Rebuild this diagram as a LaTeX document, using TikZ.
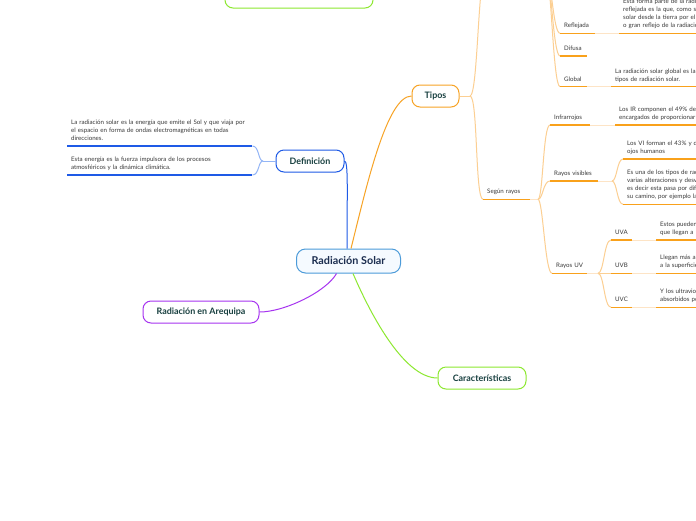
\documentclass[tikz,border=0pt]{standalone}
\usepackage{fontspec}
\setmainfont{Lato}
\usetikzlibrary{positioning}

\definecolor{rootline}{HTML}{4C9BD9}
\definecolor{rootfill}{HTML}{F5FAFF}
\definecolor{roottext}{HTML}{1B2D4F}
\definecolor{topictext}{HTML}{173F3F}
\definecolor{leaftext}{HTML}{3A3A3A}
\definecolor{tiposcol}{HTML}{F7A325}
\definecolor{tiposline}{HTML}{F9A11B}
\definecolor{tiposlight}{HTML}{FCCF92}
\definecolor{tipospale}{HTML}{FDE4C6}
\definecolor{defcol}{HTML}{1E5AE6}
\definecolor{deflight}{HTML}{93B5F6}
\definecolor{arequipacol}{HTML}{A734F0}
\definecolor{caractcol}{HTML}{8DE830}

\begin{document}
\begin{tikzpicture}[x=1pt, y=-1pt,
% first : the styles of the map
    topic/.style={
        rectangle,
        rounded corners=8pt,
        draw,
        line width=1pt,
        fill=white,
        text=topictext,
        font=\bfseries\fontsize{8.9}{10}\selectfont,
        minimum height=22pt,
        inner sep=0pt
    },
    leaf/.style={
        anchor=south west,
        align=left,
        inner xsep=4pt,
        inner ysep=2.9pt,
        text=leaftext,
        font=\fontsize{6.15}{8.1}\selectfont,
        execute at end node=\strut
    },
    link/.style={line width=1pt},
    uline/.style={line width=1.5pt}
]
\fill[white] (0,0) rectangle (696,520);
\useasboundingbox (0,0) rectangle (696,520);

% main topics
\node[topic, rounded corners=9pt, draw=rootline, fill=rootfill, text=roottext,
      font=\bfseries\fontsize{10.8}{12}\selectfont,
      minimum width=104pt, minimum height=24pt] (root) at (348.5,261) {Radiación Solar};
\node[topic, draw=tiposcol, minimum width=47pt] (tipos) at (435.5,96) {Tipos};
\node[topic, draw=defcol, minimum width=68pt] (defin) at (310,161) {Definición};
\node[topic, draw=arequipacol, minimum width=116pt] (areq) at (201,312) {Radiación en Arequipa};
\node[topic, draw=caractcol, minimum width=88pt] (carac) at (482,378) {Características};
\node[topic, draw=caractcol, minimum width=148pt] (topg) at (299,-3) {};

% definicion + text
\node[leaf, text width=177pt] (def1) at (67,146) {La radiación solar es la energía que emite el Sol y que viaja por\\el espacio en forma de ondas electromagnéticas en todas\\direcciones.};
\node[leaf, text width=177pt] (def2) at (67,175) {Esta energía es la fuerza impulsora de los procesos\\atmosféricos y la dinámica climática.};
\coordinate (jdef) at (263,161);

% tipos + text
\coordinate (jtipos) at (470,96);
\coordinate (upper) at (486,-30);
\coordinate (jupper) at (546,-28);
\node[leaf, text width=27pt] (refl) at (560,33.3) {Reflejada};
\node[leaf, text width=19pt] (difu) at (560,56) {Difusa};
\node[leaf, text width=19pt] (glob) at (560,86.7) {Global};
\node[leaf, text width=200pt] (reflt) at (619,33.3) {Esta forma parte de la radiación\\reflejada es la que, como su\\solar desde la tierra por el\\o gran reflejo de la radiación};
\node[leaf, text width=200pt] (globt) at (611,86.7) {La radiación solar global es la\\tipos de radiación solar.};

\node[leaf, text width=39pt] (segun) at (483,199.3) {Según~rayos};
\coordinate (jsegun) at (538,199.3);
\node[leaf, text width=32pt] (infra) at (550,125) {Infrarrojos};
\node[leaf, text width=200pt] (infrat) at (615,125) {Los IR componen el 49\% de\\encargados de proporcionar};
\node[leaf, text width=40pt] (visib) at (550,181) {Rayos~visibles};
\coordinate (jvis) at (612,181);
\node[leaf, text width=200pt] (vist1) at (623,159) {Los VI forman el 43\% y de\\ojos humanos};
\node[leaf, text width=200pt] (vist2) at (623,204.3) {Es una de los tipos de radiación\\varias alteraciones y desviaciones\\es decir esta pasa por diferentes\\su camino, por ejemplo las};
\node[leaf, text width=27pt] (uv) at (552,273.3) {Rayos~UV};
\coordinate (juv) at (598,273.3);
\node[leaf, text width=13pt] (uva) at (611,240) {UVA};
\node[leaf, text width=13pt] (uvb) at (611,273.3) {UVB};
\node[leaf, text width=13pt] (uvc) at (611,307.3) {UVC};
\node[leaf, text width=200pt] (uvat) at (656,240) {Estos pueden\\que llegan a};
\node[leaf, text width=200pt] (uvbt) at (656,273.3) {Llegan más a\\a la superficie};
\node[leaf, text width=200pt] (uvct) at (656,307.3) {Y los ultravioleta\\absorbidos por};

% links
\draw[link, tiposcol] ([xshift=2.5pt]root.north) .. controls +(15,-60) and +(-25,0) .. (tipos.west);
\draw[link, defcol] ([xshift=-1.5pt]root.north) .. controls +(0,-55) and +(4,0) .. (defin.east);
\draw[link, arequipacol] ([xshift=-12pt]root.south) .. controls +(-10,18) and +(25,0) .. (areq.east);
\draw[link, caractcol] ([xshift=4.5pt]root.south) .. controls +(15,35) and +(-35,0) .. (carac.west);

\draw[link, deflight] (defin.west) -- (jdef);
\foreach \n in {def1,def2}
    \draw[link, deflight] (jdef) .. controls +(-5,0) and +(7,0) .. (\n.south east);

\draw[link, tiposlight] (tipos.east) -- (jtipos);
\draw[link, tiposlight] (jtipos) .. controls +(8,0) and +(-8,0) .. (upper);
\draw[link, tiposlight] (jtipos) .. controls +(8,0) and +(-8,0) .. (segun.south west);
\foreach \n in {refl,difu,glob}
    \draw[link, tiposlight] (jupper) .. controls +(5,0) and +(-7,0) .. (\n.south west);
\draw[link, tipospale] (refl.south east) -- (reflt.south west);
\draw[link, tipospale] (glob.south east) -- (globt.south west);
\draw[link, tipospale] (segun.south east) -- (jsegun);
\foreach \n in {infra,visib,uv}
    \draw[link, tiposlight] (jsegun) .. controls +(5,0) and +(-7,0) .. (\n.south west);
\draw[link, tipospale] (infra.south east) -- (infrat.south west);
\draw[link, tipospale] (visib.south east) -- (jvis);
\foreach \n in {vist1,vist2}
    \draw[link, tiposlight] (jvis) .. controls +(5,0) and +(-6,0) .. (\n.south west);
\draw[link, tipospale] (uv.south east) -- (juv);
\foreach \n in {uva,uvb,uvc}
    \draw[link, tiposlight] (juv) .. controls +(6,0) and +(-7,0) .. (\n.south west);
\foreach \n/\t in {uva/uvat,uvb/uvbt,uvc/uvct}
    \draw[link, tipospale] (\n.south east) -- (\t.south west);

% underlines
\foreach \n in {refl,difu,glob,reflt,globt,segun,infra,infrat,visib,vist1,vist2,uv,uva,uvb,uvc,uvat,uvbt,uvct}
    \draw[uline, tiposline] (\n.south west) -- (\n.south east);
\foreach \n in {def1,def2}
    \draw[uline, defcol] (\n.south west) -- (\n.south east);

\end{tikzpicture}
\end{document}
